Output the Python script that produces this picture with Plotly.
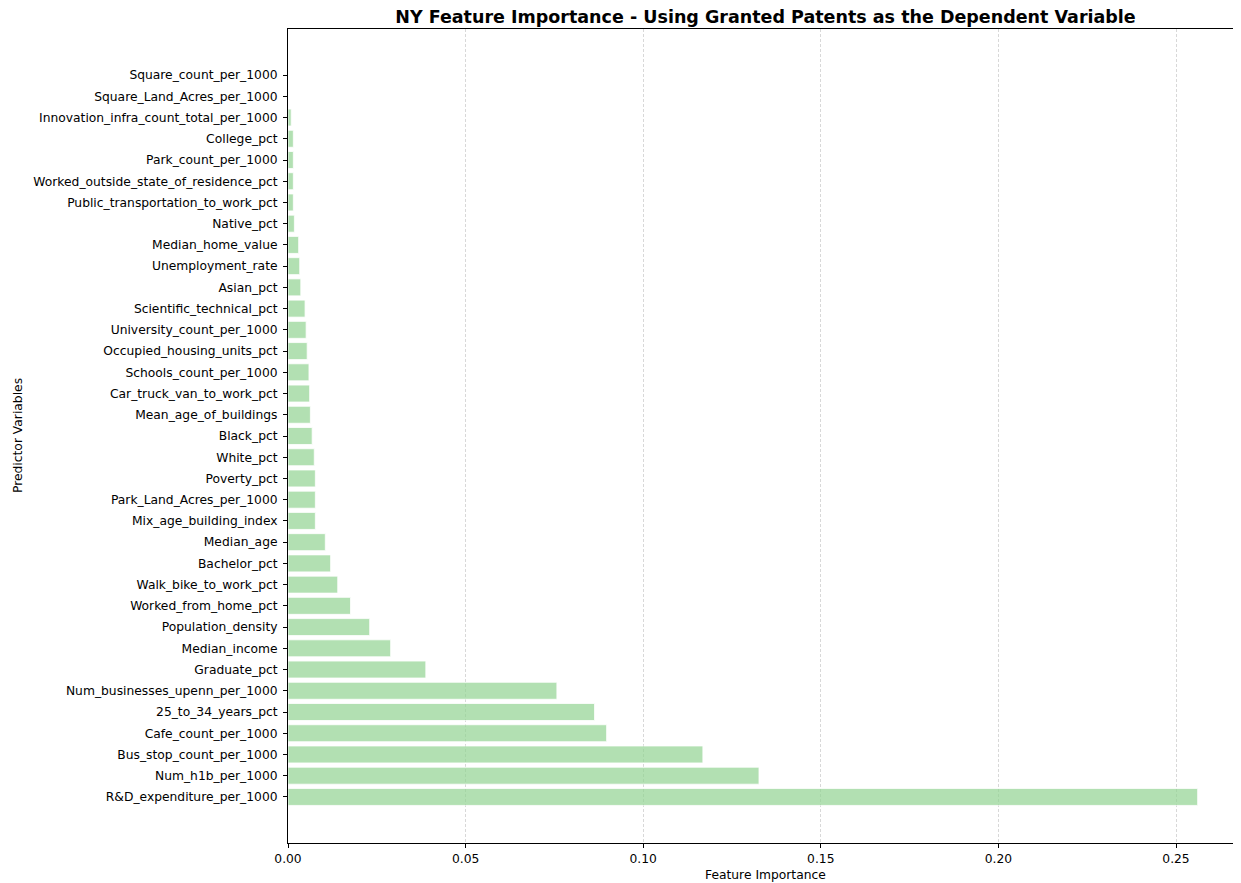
import plotly.graph_objects as go

features = [
    "R&D_expenditure_per_1000", "Num_h1b_per_1000", "Bus_stop_count_per_1000",
    "Cafe_count_per_1000", "25_to_34_years_pct", "Num_businesses_upenn_per_1000",
    "Graduate_pct", "Median_income", "Population_density", "Worked_from_home_pct",
    "Walk_bike_to_work_pct", "Bachelor_pct", "Median_age", "Mix_age_building_index",
    "Park_Land_Acres_per_1000", "Poverty_pct", "White_pct", "Black_pct",
    "Mean_age_of_buildings", "Car_truck_van_to_work_pct", "Schools_count_per_1000",
    "Occupied_housing_units_pct", "University_count_per_1000", "Scientific_technical_pct",
    "Asian_pct", "Unemployment_rate", "Median_home_value", "Native_pct",
    "Public_transportation_to_work_pct", "Worked_outside_state_of_residence_pct",
    "Park_count_per_1000", "College_pct", "Innovation_infra_count_total_per_1000",
    "Square_Land_Acres_per_1000", "Square_count_per_1000",
]
importance = [
    0.2561, 0.1326, 0.1168, 0.0897, 0.0863, 0.0757,
    0.0388, 0.0289, 0.0230, 0.0176, 0.0140, 0.0120, 0.0105, 0.0077,
    0.0077, 0.0077, 0.0074, 0.0068, 0.0063, 0.0061, 0.0059,
    0.0054, 0.0051, 0.0048, 0.0036, 0.0033, 0.0030, 0.0018,
    0.0015, 0.0015, 0.0015, 0.0015, 0.0009, 0.0, 0.0,
]
x_ticks = [0.0, 0.05, 0.10, 0.15, 0.20, 0.25]
x_tick_labels = ["0.00", "0.05", "0.10", "0.15", "0.20", "0.25"]

FONT = "DejaVu Sans"
OFF = 8  # page body margin in the browser
W, H = 1241 - OFF, 883 - OFF

# desired plot area in screen pixels
S_L, S_T, S_B = 288, 29, 843
plot_l, plot_t, plot_b = S_L - OFF, S_T - OFF, S_B - OFF
plot_r = W
pw, ph = plot_r - plot_l, plot_b - plot_t

fig = go.Figure(go.Bar(
    x=importance,
    y=features,
    orientation="h",
    width=0.8,
    marker=dict(color="rgb(146,212,146)", line=dict(color="white", width=0.8)),
    opacity=0.7,
))

fig.update_layout(
    width=W, height=H,
    margin=dict(l=plot_l, r=0, t=plot_t, b=H - plot_b, autoexpand=False),
    plot_bgcolor="white", paper_bgcolor="white",
    font=dict(family=FONT, size=12.3, color="black"),
    showlegend=False,
    title=dict(
        text="<b>NY Feature Importance - Using Granted Patents as the Dependent Variable</b>",
        x=(765.5 - OFF) / W, xref="container", xanchor="center",
        y=1 - (17 - OFF) / H, yref="container", yanchor="middle",
        font=dict(family=FONT, size=17.5, color="black"),
    ),
    annotations=[
        dict(text="Feature Importance",
             x=(765.5 - OFF - plot_l) / pw, xref="paper", xanchor="center",
             y=(plot_b - (875 - OFF)) / ph, yref="paper", yanchor="middle",
             showarrow=False, font=dict(family=FONT, size=12.3, color="black")),
        dict(text="Predictor Variables",
             x=(18 - OFF - plot_l) / pw, xref="paper", xanchor="center",
             y=(plot_b - (436 - OFF)) / ph, yref="paper", yanchor="middle",
             showarrow=False, textangle=-90,
             font=dict(family=FONT, size=12.3, color="black")),
    ],
)

fig.update_xaxes(
    range=[0, 0.2683],
    tickvals=x_ticks, ticktext=x_tick_labels,
    showline=True, linecolor="black", linewidth=1, mirror=True,
    ticks="outside", ticklen=4, tickcolor="black",
    showgrid=True, gridcolor="rgba(190,190,190,0.6)", griddash="3px,2px", gridwidth=1,
    zeroline=False, automargin=False,
)
fig.update_yaxes(
    type="category",
    categoryorder="array", categoryarray=features,
    range=[-2.17, 36.17],
    showline=True, linecolor="black", linewidth=1, mirror=False,
    ticks="outside", ticklen=4, tickcolor="black", ticklabelstandoff=3,
    showgrid=False, zeroline=False, automargin=False,
)

fig.write_html("out.html")
